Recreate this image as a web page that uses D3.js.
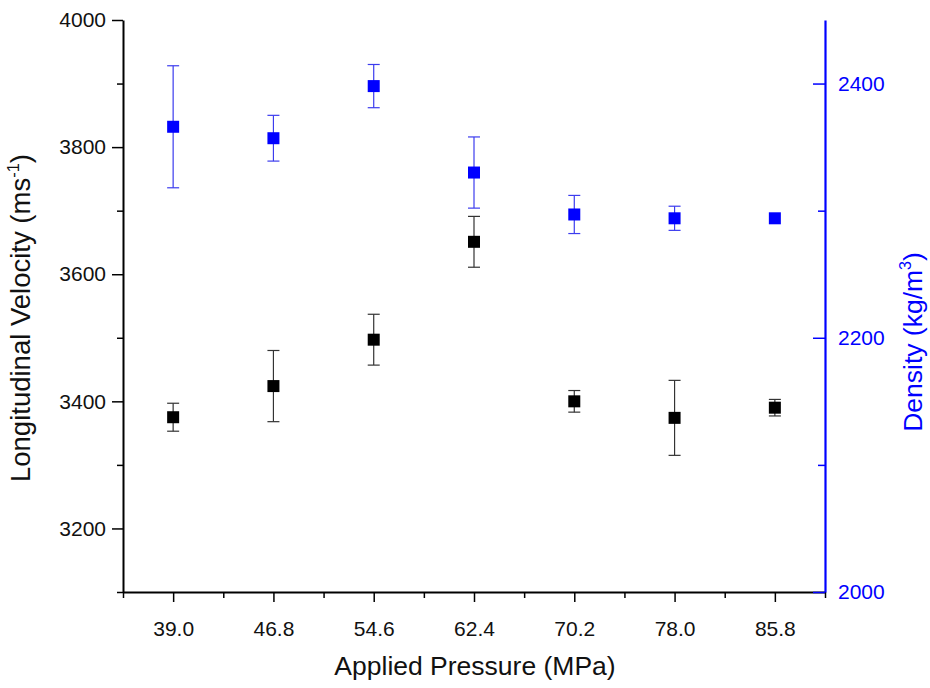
<!DOCTYPE html>
<html>
<head>
<meta charset="utf-8">
<script src="https://cdn.jsdelivr.net/npm/d3@7"></script>
<style>
  body { margin: 0; background: #fff; }
  svg { font-family: "Liberation Sans", Arial, sans-serif; }
</style>
</head>
<body>
<div id="chart"></div>
<script>
// values
const pressure = [39.0, 46.8, 54.6, 62.4, 70.2, 78.0, 85.8];
const velocity = [3375, 3424, 3497, 3651, 3400, 3374, 3390];
const velocityErr = [22, 56, 40, 40, 17, 59, 13];
const density = [2366, 2357, 2398, 2330, 2297, 2294, 2294];
const densityErr = [48, 18, 17, 28, 15, 9.5, 0];

const xTicks = [39.0, 46.8, 54.6, 62.4, 70.2, 78.0, 85.8];
const xMinor = [35.1, 42.9, 50.7, 58.5, 66.3, 74.1, 81.9, 89.7];
const leftTicks = [3200, 3400, 3600, 3800, 4000];
const leftMinor = [3100, 3300, 3500, 3700, 3900];
const rightTicks = [2000, 2200, 2400];
const rightMinor = [2100, 2300];

const margin = { top: 20, right: 105, bottom: 96, left: 123 };
const width = 930 - margin.left - margin.right;
const height = 688 - margin.top - margin.bottom;
const blue = '#0000ff';

const svg = d3.select('#chart')
    .append('svg')
    .attr('width', 930)
    .attr('height', 688)
    .append('g')
    .attr('transform', 'translate(' + margin.left + ',' + margin.top + ')');

const x = d3.scaleLinear().domain([35.1, 89.7]).range([0, width]);
const yL = d3.scaleLinear().domain([3100, 4000]).range([height, 0]);
const yR = d3.scaleLinear().domain([2000, 2450]).range([height, 0]);

// bottom axis
svg.append('g')
    .attr('transform', 'translate(0,' + height + ')')
    .call(d3.axisBottom(x).tickValues(xTicks).tickSize(10).tickSizeOuter(0).tickPadding(19)
        .tickFormat(d3.format('.1f')));
svg.append('g')
    .attr('transform', 'translate(0,' + height + ')')
    .call(d3.axisBottom(x).tickValues(xMinor).tickSize(6).tickFormat(''))
    .select('.domain').remove();

// left axis
svg.append('g')
    .call(d3.axisLeft(yL).tickValues(leftTicks).tickSize(11).tickSizeOuter(0).tickPadding(6)
        .tickFormat(d3.format('d')));
svg.append('g')
    .call(d3.axisLeft(yL).tickValues(leftMinor).tickSize(6).tickFormat(''))
    .select('.domain').remove();

// right axis, ticks point inward
const gr = svg.append('g')
    .attr('transform', 'translate(' + width + ',0)')
    .call(d3.axisRight(yR).tickValues(rightTicks).tickSize(0).tickSizeOuter(0).tickPadding(13)
        .tickFormat(d3.format('d')));
gr.selectAll('.tick line').attr('x2', -12);
const grm = svg.append('g')
    .attr('transform', 'translate(' + width + ',0)')
    .call(d3.axisRight(yR).tickValues(rightMinor).tickSize(0).tickFormat(''));
grm.select('.domain').remove();
grm.selectAll('.tick line').attr('x2', -7);

svg.selectAll('.domain').attr('stroke-width', 2);
svg.selectAll('.tick line').attr('stroke-width', 1.5);
svg.selectAll('.tick text').attr('font-size', 21).attr('fill', '#111');

gr.select('.domain').attr('stroke', blue).attr('stroke-width', 2.2);
gr.selectAll('.tick line').attr('stroke', blue);
grm.selectAll('.tick line').attr('stroke', blue);
gr.selectAll('.tick text').attr('fill', blue);

// error bars + markers
function drawSeries(yScale, vals, errs, barColor, fill) {
    const g = svg.append('g');
    const cap = 6;
    pressure.forEach((p, i) => {
        if (errs[i] <= 0) return;
        const cx = x(p);
        const y1 = yScale(vals[i] + errs[i]);
        const y2 = yScale(vals[i] - errs[i]);
        g.append('line').attr('x1', cx).attr('x2', cx).attr('y1', y1).attr('y2', y2)
            .attr('stroke', barColor).attr('stroke-width', 1.2);
        [y1, y2].forEach(yy => {
            g.append('line').attr('x1', cx - cap).attr('x2', cx + cap).attr('y1', yy).attr('y2', yy)
                .attr('stroke', barColor).attr('stroke-width', 1.2);
        });
    });
    g.selectAll('rect')
        .data(pressure)
        .enter()
        .append('rect')
        .attr('x', d => x(d) - 6)
        .attr('y', (d, i) => yScale(vals[i]) - 6)
        .attr('width', 12)
        .attr('height', 12)
        .attr('fill', fill);
}

drawSeries(yL, velocity, velocityErr, '#333', '#000');
drawSeries(yR, density, densityErr, '#3c3cee', blue);

// titles
const ly = svg.append('text')
    .attr('transform', 'translate(' + (-93) + ',' + 298 + ') rotate(-90)')
    .attr('text-anchor', 'middle')
    .attr('font-size', 27.5)
    .attr('fill', '#111');
ly.append('tspan').text('Longitudinal Velocity (ms');
ly.append('tspan').attr('dy', -11).attr('font-size', 16.5).text('-1');
ly.append('tspan').attr('dy', 11).text(')');

const ry = svg.append('text')
    .attr('transform', 'translate(' + (width + 97) + ',' + 322 + ') rotate(-90)')
    .attr('text-anchor', 'middle')
    .attr('font-size', 26.5)
    .attr('fill', blue);
ry.append('tspan').text('Density (kg/m');
ry.append('tspan').attr('dy', -11).attr('font-size', 16).text('3');
ry.append('tspan').attr('dy', 11).text(')');

svg.append('text')
    .attr('x', width / 2 + 1)
    .attr('y', height + 83)
    .attr('text-anchor', 'middle')
    .attr('font-size', 26.5)
    .attr('fill', '#111')
    .text('Applied Pressure (MPa)');
</script>
</body>
</html>
